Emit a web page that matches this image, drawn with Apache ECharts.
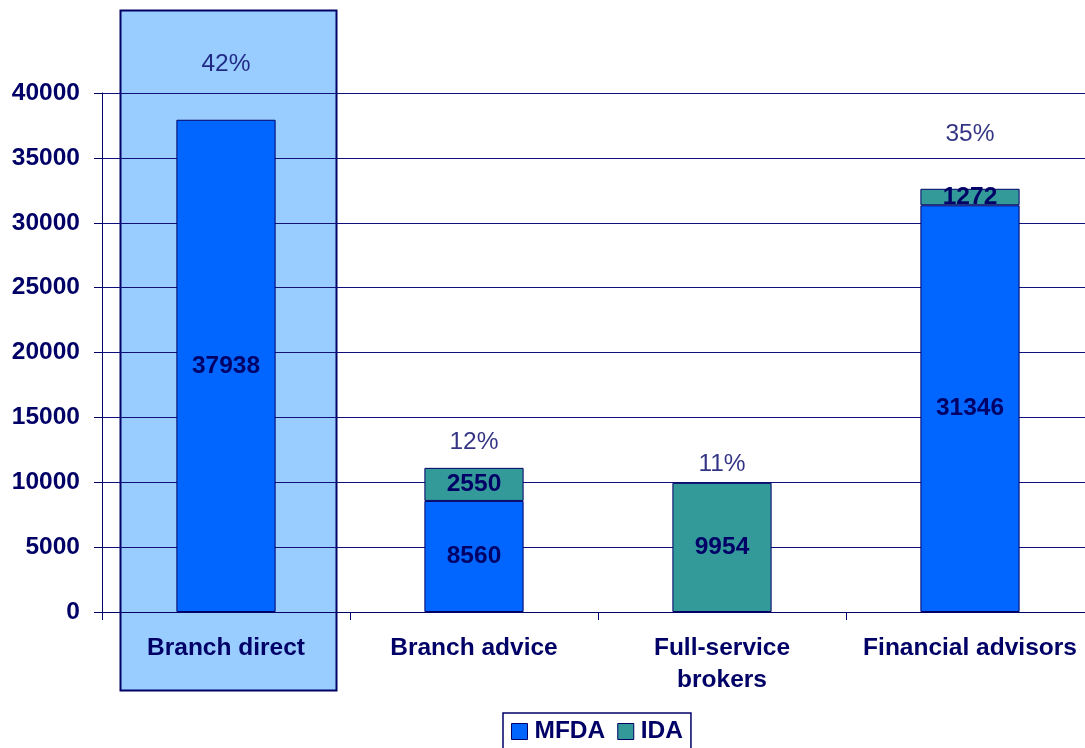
<!DOCTYPE html>
<html>
<head>
<meta charset="utf-8">
<script src="https://cdn.jsdelivr.net/npm/echarts@6/dist/echarts.min.js"></script>
<style>
  html, body { margin: 0; padding: 0; background: #fff; }
  #chart { width: 1085px; height: 748px; }
</style>
</head>
<body>
<div id="chart"></div>
<script>
// Registered dealing representatives by channel
var categories = ['Branch direct', 'Branch advice', 'Full-service\nbrokers', 'Financial advisors'];
var mfda = [37938, 8560, null, 31346];
var ida = [null, 2550, 9954, 1272];
var shares = ['42%', '12%', '11%', '35%'];
var yTicks = [0, 5000, 10000, 15000, 20000, 25000, 30000, 35000, 40000];

var NAVY = '#000066';
var FONT = '"Liberation Sans", Arial, sans-serif';
var FS = 24.5;

var totals = categories.map(function (c, i) { return (mfda[i] || 0) + (ida[i] || 0); });
// extra lift of each share label above its stack
var shareLift = [-37, -7, 0, -36];

var chart = echarts.init(document.getElementById('chart'));

var option = {
  animation: false,
  backgroundColor: '#fff',
  textStyle: { fontFamily: FONT },
  grid: {
    left: 102, top: 93, height: 519, width: 992,
    containLabel: false, outerBoundsMode: 'none'
  },
  legend: {
    data: ['MFDA', 'IDA'],
    left: 503,
    top: 713,
    itemWidth: 16,
    itemHeight: 16,
    itemGap: 12,
    padding: [6, 8, 12, 8],
    borderColor: NAVY,
    borderWidth: 1.5,
    icon: 'rect',
    itemStyle: { borderColor: NAVY, borderWidth: 1 },
    textStyle: { color: NAVY, fontWeight: 'bold', fontSize: FS, fontFamily: FONT, padding: [0, 0, 0, 2] }
  },
  xAxis: {
    type: 'category',
    data: categories,
    axisLine: { lineStyle: { color: NAVY, width: 1 } },
    axisTick: { show: true, length: 8, lineStyle: { color: NAVY } },
    axisLabel: {
      color: NAVY, fontWeight: 'bold', fontSize: FS, fontFamily: FONT,
      margin: 20, lineHeight: 32, interval: 0
    },
    splitLine: { show: false }
  },
  yAxis: {
    type: 'value',
    min: yTicks[0],
    max: yTicks[yTicks.length - 1],
    interval: yTicks[1] - yTicks[0],
    axisLine: { show: true, lineStyle: { color: NAVY, width: 1 } },
    axisTick: { show: true, length: 8, lineStyle: { color: NAVY } },
    axisLabel: {
      color: NAVY, fontWeight: 'bold', fontSize: FS, fontFamily: FONT, margin: 22,
      formatter: function (v) { return String(v); }
    },
    splitLine: { show: true, lineStyle: { color: '#10107a', width: 1 } }
  },
  series: [
    {
      name: 'MFDA', type: 'bar', stack: 'reps', data: mfda,
      barWidth: '40%',
      itemStyle: { color: '#0066FF', borderColor: NAVY, borderWidth: 1 },
      label: { show: true, position: 'inside', color: NAVY, fontWeight: 'bold', fontSize: FS, fontFamily: FONT }
    },
    {
      name: 'IDA', type: 'bar', stack: 'reps', data: ida,
      barWidth: '40%',
      itemStyle: { color: '#339999', borderColor: NAVY, borderWidth: 1 },
      label: { show: true, position: 'inside', color: NAVY, fontWeight: 'bold', fontSize: FS, fontFamily: FONT }
    },
    {
      name: 'share', type: 'scatter', symbolSize: 0, silent: true,
      data: totals.map(function (t, i) {
        return {
          value: t,
          label: { offset: [0, shareLift[i]], formatter: shares[i] }
        };
      }),
      label: { show: true, position: 'top', distance: 6, color: NAVY, fontSize: FS, fontFamily: FONT }
    }
  ]
};

chart.setOption(option);

// Highlight panel behind the first channel, sized from the category band
var c0 = chart.convertToPixel({ xAxisIndex: 0 }, categories[0]);
var c1 = chart.convertToPixel({ xAxisIndex: 0 }, categories[1]);
var band = c1 - c0;
var left = Math.round(c0 - band * 0.427);
var right = Math.round(c0 + band * 0.445);
chart.setOption({
  graphic: [{
    type: 'rect',
    z: -10,
    silent: true,
    shape: { x: left + 0.5, y: 10.5, width: right - left, height: 680 },
    style: { fill: '#99CCFF', stroke: NAVY, lineWidth: 2 }
  }]
});
</script>
</body>
</html>
